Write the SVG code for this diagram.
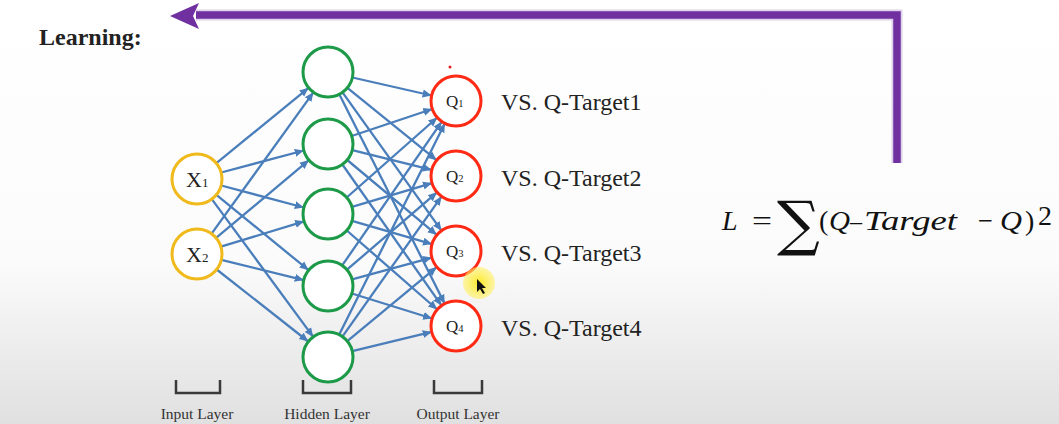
<svg xmlns="http://www.w3.org/2000/svg" width="1059" height="424" viewBox="0 0 1059 424">
<defs>
<linearGradient id="bg" x1="0" y1="0" x2="0" y2="1">
<stop offset="0" stop-color="#ffffff"/>
<stop offset="0.62" stop-color="#fbfbfb"/>
<stop offset="1" stop-color="#e0e0e0"/>
</linearGradient>
<marker id="ah" markerUnits="userSpaceOnUse" markerWidth="10" markerHeight="10" refX="9" refY="5" orient="auto">
<path d="M0,1 L9,5 L0,9 Z" fill="#4a7ebb"/>
</marker>
<radialGradient id="hl"><stop offset="0" stop-color="#ffe800" stop-opacity="0.85"/><stop offset="1" stop-color="#fff060" stop-opacity="0.55"/></radialGradient>
</defs>
<style>
.e{stroke:#4a7ebb;stroke-width:2.3;fill:none;marker-end:url(#ah)}
.in{fill:#fff;stroke:#f0b91c;stroke-width:3}
.hid{fill:#fff;stroke:#1c9a48;stroke-width:3}
.out{fill:#fff;stroke:#ff2a14;stroke-width:3}
.t{font-family:"Liberation Serif",serif;fill:#222}
.vs{font-family:"Liberation Serif",serif;font-size:24px;fill:#222}
.lay{font-family:"Liberation Serif",serif;font-size:15.5px;fill:#333;text-anchor:middle}
.br{fill:none;stroke:#3a3a3a;stroke-width:2.5}
.m{font-family:"Liberation Serif",serif;fill:#111;font-size:28px}
.i{font-style:italic}
</style>
<rect width="1059" height="424" fill="url(#bg)"/>

<text x="39" y="45" class="t" font-size="24" font-weight="bold" fill="#111">Learning:</text>

<g id="feedback">
<path d="M897,163 L897,15 L196,15" fill="none" stroke="#c8b2dc" stroke-width="11" opacity="0.6"/>
<path d="M897,163 L897,15 L196,15" fill="none" stroke="#7030a0" stroke-width="7.5" stroke-linejoin="miter"/>
<path d="M170,16 L199,3 L193,16 L199,29 Z" fill="#7030a0"/>
</g>

<g id="connectors">
<line class="e" x1="216.4" y1="163.2" x2="308.6" y2="87.8"/>
<line class="e" x1="221.2" y1="172.5" x2="303.8" y2="150.5"/>
<line class="e" x1="221.2" y1="185.5" x2="303.8" y2="207.5"/>
<line class="e" x1="216.4" y1="194.8" x2="308.6" y2="270.2"/>
<line class="e" x1="211.8" y1="199.1" x2="313.2" y2="336.9"/>
<line class="e" x1="211.6" y1="233.7" x2="313.4" y2="92.3"/>
<line class="e" x1="216.1" y1="237.9" x2="308.9" y2="160.1"/>
<line class="e" x1="220.9" y1="246.7" x2="304.1" y2="221.3"/>
<line class="e" x1="221.3" y1="259.9" x2="303.7" y2="280.1"/>
<line class="e" x1="216.7" y1="269.5" x2="308.3" y2="341.5"/>

<line class="e" x1="352.4" y1="77.5" x2="431.6" y2="95.5"/>
<line class="e" x1="347.4" y1="87.8" x2="436.6" y2="160.2"/>
<line class="e" x1="342.5" y1="92.3" x2="441.5" y2="230.7"/>
<line class="e" x1="339.3" y1="94.3" x2="444.7" y2="303.7"/>
<line class="e" x1="351.7" y1="136.0" x2="432.3" y2="109.0"/>
<line class="e" x1="352.3" y1="150.1" x2="431.7" y2="169.9"/>
<line class="e" x1="347.2" y1="160.0" x2="436.8" y2="234.9"/>
<line class="e" x1="342.4" y1="164.5" x2="441.6" y2="305.6"/>
<line class="e" x1="346.7" y1="197.5" x2="437.3" y2="117.5"/>
<line class="e" x1="352.0" y1="206.9" x2="432.0" y2="183.1"/>
<line class="e" x1="352.0" y1="220.9" x2="432.0" y2="244.1"/>
<line class="e" x1="346.8" y1="230.5" x2="437.2" y2="309.5"/>
<line class="e" x1="342.2" y1="265.4" x2="441.8" y2="121.6"/>
<line class="e" x1="347.0" y1="269.7" x2="437.0" y2="192.3"/>
<line class="e" x1="352.1" y1="279.4" x2="431.9" y2="257.6"/>
<line class="e" x1="351.9" y1="293.5" x2="432.1" y2="318.5"/>
<line class="e" x1="339.2" y1="334.6" x2="444.8" y2="123.4"/>
<line class="e" x1="342.4" y1="336.6" x2="441.6" y2="196.4"/>
<line class="e" x1="347.3" y1="341.1" x2="436.7" y2="267.1"/>
<line class="e" x1="352.3" y1="351.1" x2="431.7" y2="331.9"/>
</g>

<g id="x1"><circle class="in" cx="197" cy="179" r="25"/><text class="t" x="186" y="187" font-size="22">X<tspan font-size="13">1</tspan></text></g>
<g id="x2"><circle class="in" cx="197" cy="254" r="25"/><text class="t" x="186" y="262" font-size="22">X<tspan font-size="13">2</tspan></text></g>

<g id="h1"><circle class="hid" cx="328" cy="72" r="25"/></g>
<g id="h2"><circle class="hid" cx="328" cy="144" r="25"/></g>
<g id="h3"><circle class="hid" cx="328" cy="214" r="25"/></g>
<g id="h4"><circle class="hid" cx="328" cy="286" r="25"/></g>
<g id="h5"><circle class="hid" cx="328" cy="357" r="25"/></g>

<g id="q1"><circle class="out" cx="456" cy="101" r="25"/><text class="t" x="446" y="107" font-size="17">Q<tspan font-size="10.5">1</tspan></text></g>
<g id="q2"><circle class="out" cx="456" cy="176" r="25"/><text class="t" x="446" y="182" font-size="17">Q<tspan font-size="10.5">2</tspan></text></g>
<g id="q3"><circle class="out" cx="456" cy="251" r="25"/><text class="t" x="446" y="257" font-size="17">Q<tspan font-size="10.5">3</tspan></text></g>
<g id="q4"><circle class="out" cx="456" cy="326" r="25"/><text class="t" x="446" y="332" font-size="17">Q<tspan font-size="10.5">4</tspan></text></g>

<text class="vs" x="501" y="110">VS. Q-Target1</text>
<text class="vs" x="501" y="186">VS. Q-Target2</text>
<text class="vs" x="501" y="261">VS. Q-Target3</text>
<text class="vs" x="501" y="336">VS. Q-Target4</text>

<g id="formula">
<text class="m i" x="722" y="230">L</text>
<text class="m" x="752" y="230" textLength="20" lengthAdjust="spacingAndGlyphs">=</text>
<text x="777" y="244" font-family="DejaVu Serif,serif" font-size="60" fill="#111">∑</text>
<text class="m" x="819" y="230">(</text>
<text class="m i" x="829" y="230" textLength="21" lengthAdjust="spacingAndGlyphs">Q</text>
<text class="m" x="850" y="230" textLength="12" lengthAdjust="spacingAndGlyphs">–</text>
<text class="m i" x="864" y="230" textLength="93" lengthAdjust="spacingAndGlyphs">Target</text>
<text class="m" x="978" y="230" textLength="15" lengthAdjust="spacingAndGlyphs">−</text>
<text class="m i" x="1000" y="230" textLength="22" lengthAdjust="spacingAndGlyphs">Q</text>
<text class="m" x="1025" y="230">)</text>
<text class="m" x="1038" y="225" font-size="23">2</text>
</g>

<g id="brackets">
<path class="br" d="M176,380 V393 H220 V380"/>
<path class="br" d="M303,380 V393 H351 V380"/>
<path class="br" d="M434,380 V393 H482 V380"/>
</g>
<text class="lay" x="197" y="419">Input Layer</text>
<text class="lay" x="327" y="419">Hidden Layer</text>
<text class="lay" x="458" y="419">Output Layer</text>

<circle cx="479" cy="283" r="16" fill="url(#hl)"/>
<path d="M477,279 L477,292 L480,289 L483,294 L485,293 L482,288 L486,288 Z" fill="#111"/>
<circle cx="450" cy="67" r="1.5" fill="#e02020"/>
</svg>
